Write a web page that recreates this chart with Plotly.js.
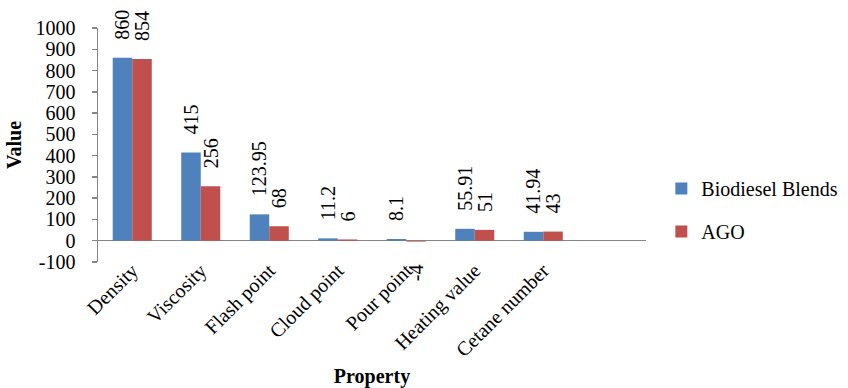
<!DOCTYPE html>
<html>
<head>
<meta charset="utf-8">
<script src="https://cdn.plot.ly/plotly-3.0.1.min.js"></script>
<style>
  html, body { margin: 0; padding: 0; background: #fff; }
  #chart { width: 848px; height: 388px; }
</style>
</head>
<body>
<div id="chart"></div>
<script>
// Fuel properties: biodiesel blends versus AGO
const properties = ["Density", "Viscosity", "Flash point", "Cloud point", "Pour point", "Heating value", "Cetane number"];
const biodieselBlends = [860, 415, 123.95, 11.2, 8.1, 55.91, 41.94];
const ago = [854, 256, 68, 6, -4, 51, 43];
const yTicks = [-100, 0, 100, 200, 300, 400, 500, 600, 700, 800, 900, 1000];

const SERIF = "Liberation Serif";
const PAD_POS = "\u00a0\u00a0\u00a0";
const PAD_NEG = "\u00a0\u00a0\u00a0\u00a0";

// value labels sit a little off the bar end, reading bottom to top
function labels(vals) {
  return vals.map(v => v < 0 ? String(v) + PAD_NEG : PAD_POS + String(v));
}

function barTrace(name, vals, color) {
  return {
    type: "bar",
    name: name,
    legendgroup: name,
    x: properties,
    y: vals,
    text: labels(vals),
    textposition: "outside",
    textangle: -90,
    constraintext: "none",
    cliponaxis: false,
    textfont: { family: SERIF, size: 20, color: "#000" },
    marker: { color: color, line: { width: 0 } },
    hoverinfo: "x+y+name"
  };
}

const data = [
  barTrace("Biodiesel Blends", biodieselBlends, "#4F81BD"),
  barTrace("AGO", ago, "#C0504D")
];

const layout = {
  width: 848,
  height: 388,
  margin: { l: 98, r: 202, t: 28, b: 126, pad: 0, autoexpand: false },
  paper_bgcolor: "#fff",
  plot_bgcolor: "#fff",
  font: { family: SERIF, size: 20, color: "#000" },
  barmode: "group",
  bargap: 0.43,
  bargroupgap: 0,
  showlegend: true,
  legend: {
    x: 1.028, xanchor: "left",
    y: 0.222, yanchor: "middle",
    font: { family: SERIF, size: 20, color: "#000" },
    tracegroupgap: 14,
    bgcolor: "rgba(0,0,0,0)"
  },
  xaxis: {
    type: "category",
    range: [-0.5, 7.5],
    showline: false,
    showgrid: false,
    zeroline: false,
    ticks: "",
    tickangle: -45,
    ticklabelstandoff: -8,
    ticklabelshift: 0,
    tickfont: { family: SERIF, size: 20, color: "#000" },
    title: { text: "<b>Property</b>", font: { family: SERIF, size: 20, color: "#000" }, standoff: 14 },
    automargin: false
  },
  yaxis: {
    range: [-100, 1000],
    tickvals: yTicks,
    ticktext: yTicks.map(String),
    showline: true,
    linecolor: "#868686",
    linewidth: 1.5,
    ticks: "outside",
    ticklen: 5,
    tickcolor: "#868686",
    tickwidth: 1.5,
    ticklabelstandoff: 12,
    showgrid: false,
    zeroline: true,
    zerolinecolor: "#868686",
    zerolinewidth: 1.5,
    tickfont: { family: SERIF, size: 20, color: "#000" },
    title: { text: "<b>Value</b>", font: { family: SERIF, size: 20, color: "#000" }, standoff: 8 },
    automargin: false
  }
};

Plotly.newPlot("chart", data, layout, { displayModeBar: false, staticPlot: true });
</script>
</body>
</html>
